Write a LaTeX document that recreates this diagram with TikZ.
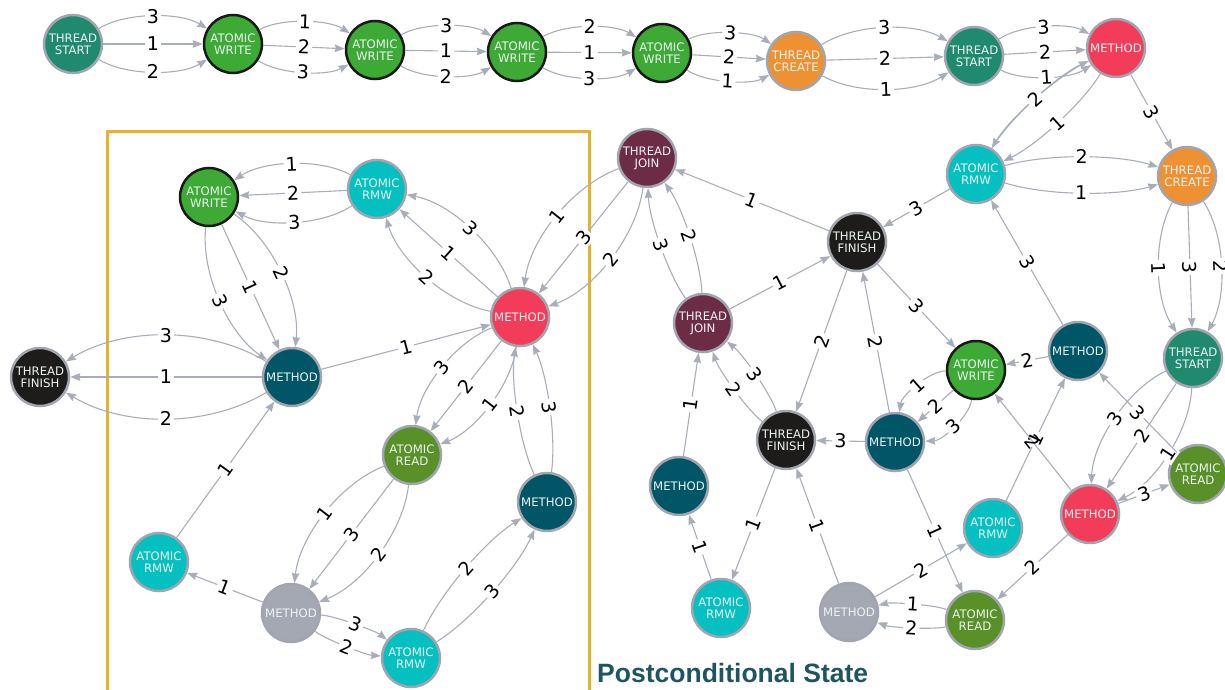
\documentclass[tikz,border=0pt]{standalone}
\usepackage{fontspec}
\setmainfont{DejaVu Sans}
\newfontfamily\titlefont{Liberation Sans}
\usetikzlibrary{arrows.meta,calc}

\definecolor{cTS}{HTML}{1F8A6E}
\definecolor{cAW}{HTML}{3DAA35}
\definecolor{cTC}{HTML}{EE9132}
\definecolor{cMR}{HTML}{F23C5A}
\definecolor{cRMW}{HTML}{05C0C0}
\definecolor{cTF}{HTML}{1D1C1A}
\definecolor{cTJ}{HTML}{6D2C46}
\definecolor{cMD}{HTML}{005666}
\definecolor{cAR}{HTML}{5A9028}
\definecolor{cMG}{HTML}{A3A8B3}
\definecolor{rimgray}{HTML}{A0A5B0}
\definecolor{edgegray}{HTML}{A8AEB9}
\definecolor{boxgold}{HTML}{E8B12A}
\definecolor{titleteal}{HTML}{1E5560}
\definecolor{nodetext}{HTML}{ECF4F2}

\newcommand\nodetxt{\fontsize{11.7}{12}\selectfont}
\newcommand\lbltxt{\fontsize{19}{19}\selectfont}

% bend of parallel edges: three-edge bundles and two-edge bundles
\newcommand\trad{0.30}
\newcommand\prad{0.15}

\tikzset{
  nd/.style={circle, minimum size=58pt, inner sep=0pt, draw=rimgray,
    line width=2.5pt, text=nodetext, font=\nodetxt, align=center},
  ts/.style={nd, fill=cTS},
  aw/.style={nd, fill=cAW, draw=black!90},
  tc/.style={nd, fill=cTC},
  mr/.style={nd, fill=cMR},
  rmw/.style={nd, fill=cRMW},
  tf/.style={nd, fill=cTF},
  tj/.style={nd, fill=cTJ},
  md/.style={nd, fill=cMD},
  ar/.style={nd, fill=cAR},
  mg/.style={nd, fill=cMG},
  e/.style={draw=edgegray, line width=1.1pt,
    -{Stealth[length=10pt,width=7.5pt,inset=1pt]}},
  lb/.style={midway, sloped, fill=white, inner sep=2pt, font=\lbltxt, text=black},
}

% \arcedge[label style]{from}{to}{rad}{label}: arc whose control point lies
% rad times the centre distance off the chord (positive = to the left)
\newcommand\arcedge[5][]{%
  \draw[e] let \p1=(#2.center), \p2=(#3.center), \n1={(#4)*2/3} in
    (#2) .. controls ({\x1+(\x2-\x1)/3-\n1*(\y2-\y1)}, {\y1+(\y2-\y1)/3+\n1*(\x2-\x1)})
             and ({\x2-(\x2-\x1)/3-\n1*(\y2-\y1)}, {\y2-(\y2-\y1)/3+\n1*(\x2-\x1)})
    .. (#3) node[lb,#1]{#5};}
\newcommand\lineedge[4][]{\draw[e] (#2) to node[lb,#1]{#4} (#3);}

\begin{document}
\begin{tikzpicture}[x=1pt, y=-1pt]
\useasboundingbox (0,0) rectangle (1225,690);
\clip (0,0) rectangle (1225,690);
\fill[white] (0,0) rectangle (1225,690);

% frame around the left group
\draw[boxgold, line width=3pt] (107,700) -- (107,131) -- (589,131) -- (589,700);

% top chain
\node[ts]  (ts1) at (73,44)   {THREAD\\START};
\node[aw]  (aw1) at (233,44)  {ATOMIC\\WRITE};
\node[aw]  (aw2) at (375,50)  {ATOMIC\\WRITE};
\node[aw]  (aw3) at (517,52)  {ATOMIC\\WRITE};
\node[aw]  (aw4) at (662,53)  {ATOMIC\\WRITE};
\node[tc]  (tc1) at (796,61)  {THREAD\\CREATE};
\node[ts]  (ts2) at (974,56)  {THREAD\\START};
\node[mr]  (m1)  at (1116,48) {METHOD};

% right part
\node[rmw] (rmw1) at (976,174)  {ATOMIC\\RMW};
\node[tc]  (tc2)  at (1187,176) {THREAD\\CREATE};
\node[ts]  (ts3)  at (1193,358) {THREAD\\START};
\node[md]  (mdr)  at (1078,351) {METHOD};
\node[aw]  (aw5)  at (976,370)  {ATOMIC\\WRITE};
\node[mr]  (mr2)  at (1090,514) {METHOD};
\node[ar]  (arR)  at (1198,474) {ATOMIC\\READ};
\node[rmw] (rmwR) at (993,528)  {ATOMIC\\RMW};
\node[ar]  (arB)  at (975,620)  {ATOMIC\\READ};

% middle part
\node[tj]  (tj1)  at (647,158) {THREAD\\JOIN};
\node[tf]  (tf1)  at (857,242) {THREAD\\FINISH};
\node[tj]  (tj2)  at (703,323) {THREAD\\JOIN};
\node[tf]  (tf2)  at (786,440) {THREAD\\FINISH};
\node[md]  (mdm)  at (895,442) {METHOD};
\node[md]  (mdc)  at (679,486) {METHOD};
\node[rmw] (rmwc) at (721,608) {ATOMIC\\RMW};
\node[mg]  (mgc)  at (849,612) {METHOD};

% left group
\node[aw]  (aw6)  at (209,197) {ATOMIC\\WRITE};
\node[rmw] (rmw2) at (377,189) {ATOMIC\\RMW};
\node[mr]  (mr1)  at (520,317) {METHOD};
\node[md]  (mdl)  at (292,377) {METHOD};
\node[tf]  (tf3)  at (40,377)  {THREAD\\FINISH};
\node[ar]  (arL)  at (412,455) {ATOMIC\\READ};
\node[md]  (mdl2) at (547,502) {METHOD};
\node[rmw] (rmw3) at (159,562) {ATOMIC\\RMW};
\node[mg]  (mgl)  at (291,613) {METHOD};
\node[rmw] (rmw4) at (411,658) {ATOMIC\\RMW};

% top chain edges
\arcedge{ts1}{aw1}{\trad}{3}  \lineedge{ts1}{aw1}{1}  \arcedge{ts1}{aw1}{-\trad}{2}
\arcedge{aw1}{aw2}{\trad}{1}  \lineedge{aw1}{aw2}{2}  \arcedge{aw1}{aw2}{-\trad}{3}
\arcedge{aw2}{aw3}{\trad}{3}  \lineedge{aw2}{aw3}{1}  \arcedge{aw2}{aw3}{-\trad}{2}
\arcedge{aw3}{aw4}{\trad}{2}  \lineedge{aw3}{aw4}{1}  \arcedge{aw3}{aw4}{-\trad}{3}
\arcedge{aw4}{tc1}{\trad}{3}  \lineedge{aw4}{tc1}{2}  \arcedge{aw4}{tc1}{-\trad}{1}
\arcedge{tc1}{ts2}{\trad}{3}  \lineedge{tc1}{ts2}{2}  \arcedge{tc1}{ts2}{-\trad}{1}
\arcedge{ts2}{m1}{\trad}{3}   \lineedge{ts2}{m1}{2}   \arcedge{ts2}{m1}{-\trad}{1}

% right part edges
\arcedge{m1}{rmw1}{\prad}{1}
\arcedge{m1}{rmw1}{-\prad}{2}
\arcedge{rmw1}{m1}{\prad}{2}
\lineedge{m1}{tc2}{3}
\arcedge{rmw1}{tc2}{\prad}{2}  \arcedge{rmw1}{tc2}{-\prad}{1}
\arcedge{tc2}{ts3}{\trad}{2}  \lineedge{tc2}{ts3}{3}  \arcedge{tc2}{ts3}{-\trad}{1}
\lineedge{rmw1}{tf1}{3}
\lineedge{mdr}{rmw1}{3}
\lineedge{mdr}{aw5}{2}
\arcedge{ts3}{mr2}{\trad}{1}  \lineedge{ts3}{mr2}{2}  \arcedge{ts3}{mr2}{-\trad}{3}
\lineedge{arR}{mdr}{3}
\lineedge{mr2}{arR}{3}
\lineedge{mr2}{arB}{2}
\lineedge{rmwR}{mdr}{1}
\lineedge[fill=none]{mr2}{aw5}{2}

% middle edges
\lineedge{tf1}{tj1}{1}
\lineedge{tj2}{tf1}{1}
\lineedge{tf1}{aw5}{3}
\lineedge{tf1}{tf2}{2}
\lineedge{mdm}{tf1}{2}
\arcedge{tj2}{tj1}{\prad}{3}  \arcedge{tj2}{tj1}{-\prad}{2}
\arcedge{tf2}{tj2}{\prad}{2}  \arcedge{tf2}{tj2}{-\prad}{3}
\lineedge{mdc}{tj2}{1}
\lineedge{rmwc}{mdc}{1}
\lineedge{tf2}{rmwc}{1}
\lineedge{mgc}{tf2}{1}
\lineedge{mdm}{tf2}{3}
\arcedge{aw5}{mdm}{0.42}{3}  \lineedge{aw5}{mdm}{2}  \arcedge{aw5}{mdm}{-0.42}{1}
\lineedge{mdm}{arB}{1}
\arcedge{arB}{mgc}{\prad}{2}  \arcedge{arB}{mgc}{-\prad}{1}
\lineedge{mgc}{rmwR}{2}

% left group edges
\arcedge{tj1}{mr1}{\trad}{2}   \lineedge{tj1}{mr1}{3}   \arcedge{tj1}{mr1}{-\trad}{1}
\arcedge{mr1}{rmw2}{\trad}{2}  \lineedge{mr1}{rmw2}{1}  \arcedge{mr1}{rmw2}{-\trad}{3}
\arcedge{rmw2}{aw6}{\trad}{3}  \lineedge{rmw2}{aw6}{2}  \arcedge{rmw2}{aw6}{-\trad}{1}
\arcedge{aw6}{mdl}{\trad}{2}   \lineedge{aw6}{mdl}{1}   \arcedge{aw6}{mdl}{-\trad}{3}
\arcedge{mdl}{tf3}{\trad}{2}   \lineedge{mdl}{tf3}{1}   \arcedge{mdl}{tf3}{-\trad}{3}
\lineedge{mdl}{mr1}{1}
\arcedge{mr1}{arL}{\trad}{1}   \lineedge{mr1}{arL}{2}   \arcedge{mr1}{arL}{-\trad}{3}
\arcedge{mdl2}{mr1}{\prad}{2}  \arcedge{mdl2}{mr1}{-\prad}{3}
\arcedge{arL}{mgl}{\trad}{2}   \lineedge{arL}{mgl}{3}   \arcedge{arL}{mgl}{-\trad}{1}
\lineedge{mgl}{rmw3}{1}
\lineedge{rmw3}{mdl}{1}
\arcedge{mgl}{rmw4}{\prad}{3}  \arcedge{mgl}{rmw4}{-\prad}{2}
\arcedge{rmw4}{mdl2}{\prad}{2} \arcedge{rmw4}{mdl2}{-\prad}{3}

% caption
\node[anchor=base west, inner sep=0pt, text=titleteal,
  font=\titlefont\bfseries\fontsize{26.5}{26.5}\selectfont] (title) at (597,682)
  {Postconditional State};
\end{tikzpicture}
\end{document}
